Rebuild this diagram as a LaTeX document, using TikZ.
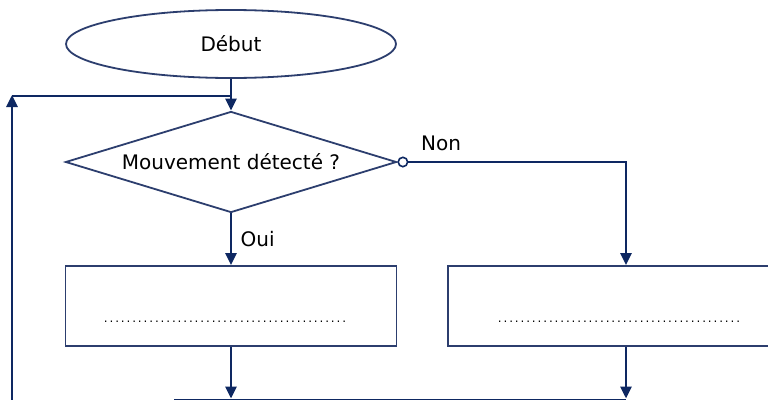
\documentclass[tikz,border=0pt]{standalone}
\usepackage{fontspec}
\setmainfont{DejaVu Sans}
\usetikzlibrary{shapes.geometric, arrows.meta}

\definecolor{navy}{RGB}{14,40,98}
\definecolor{edge}{RGB}{44,62,110}

\newcommand{\dotrow}{\hbox to 244pt{\xleaders\hbox to 5.67pt{\hss.\hss}\hfill}}

\begin{document}
\begin{tikzpicture}[
    x=1pt, y=-1pt,
    font=\fontsize{20}{24}\selectfont,
    shapeline/.style={draw=edge, line width=1.8pt, fill=white},
    terminal/.style={shapeline, ellipse, minimum width=330pt, minimum height=68pt, inner sep=0pt},
    test/.style={shapeline, diamond, shape aspect=3.3, minimum width=331pt, minimum height=101pt, inner sep=0pt},
    action/.style={shapeline, rectangle, minimum height=80pt, inner sep=0pt},
    link/.style={draw=navy, line width=2.8pt},
    flow/.style={link, -{Triangle[length=12pt, width=11pt]}}
]

    \clip (0,0) rectangle (768,399);

    % Coordinates
    \coordinate (merge) at (231,96);
    \coordinate (back_top) at (12,95);
    \coordinate (back_bot) at (12,400);
    \coordinate (non_turn) at (626,162);
    \coordinate (join_left) at (174,400.5);
    \coordinate (join_right) at (626,400.5);
    \coordinate (tip_left) at (231,398.5);
    \coordinate (tip_right) at (626,398.5);

    % Shapes
    \node[terminal] (debut) at (231,44) {Début};
    \node[test] (test) at (231,162) {Mouvement détecté ?};
    \node[action, minimum width=331pt] (oui_box) at (231,306) {};
    \node[action, minimum width=342pt] (non_box) at (619,306) {};

    % Box contents
    \node[anchor=base, font=\fontsize{12}{14}\selectfont, inner sep=0pt] (oui_text) at (225,322) {\dotrow};
    \node[anchor=base, font=\fontsize{12}{14}\selectfont, inner sep=0pt] (non_text) at (619,322) {\dotrow};

    % Loop back
    \draw[flow] (back_bot) -- (back_top);
    \draw[link] (back_top |- merge) -- (merge);
    \draw[flow] (debut.south) -- (test.north);

    % Branches
    \draw[flow] (test.south) -- (oui_box.north) node[midway, right, xshift=5pt] (oui) {Oui};
    \draw[link, {Circle[open, length=11pt, width=11pt, line width=1.6pt, fill=white]}-{Triangle[length=12pt, width=11pt]}]
        (test.east) -- (non_turn) -- (non_turn |- non_box.north);
    \node (non) at (441,143) {Non};

    % Join
    \draw[flow] (oui_box.south) -- (tip_left);
    \draw[flow] (non_box.south -| non_turn) -- (tip_right);
    \draw[link] (join_left) -- (join_right);

\end{tikzpicture}
\end{document}
